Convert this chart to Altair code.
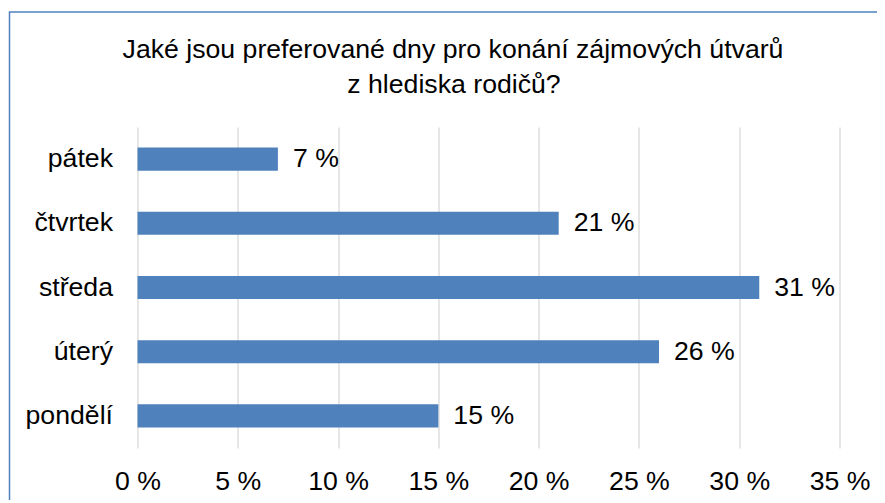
import altair as alt
import pandas as pd

days = ["pátek", "čtvrtek", "středa", "úterý", "pondělí"]
values = [7, 21, 31, 26, 15]
labels = ["7 %", "21 %", "31 %", "26 %", "15 %"]
ticks = [0, 5, 10, 15, 20, 25, 30, 35]
title_lines = ["Jaké jsou preferované dny pro konání zájmových útvarů", "z hlediska rodičů?"]

df = pd.DataFrame({"day": days, "value": values, "label": labels})
one = pd.DataFrame({"k": [0]})

FONT = "Liberation Sans"
FS = 26.67
W, H = 702, 321

x = alt.X("value:Q", scale=alt.Scale(domain=[0, 35], nice=False),
          axis=alt.Axis(values=ticks, labelExpr="datum.value + ' %'", title=None,
                        domain=False, ticks=False, grid=True, gridColor="#d9d9d9",
                        gridWidth=1.3, labelFont=FONT, labelFontSize=FS,
                        labelColor="#000000", labelPadding=20, labelFlush=False))
y = alt.Y("day:N", sort=days,
          scale=alt.Scale(paddingInner=0.64, paddingOuter=0.32),
          axis=alt.Axis(title=None, domain=False, ticks=False, grid=False,
                        labelFont=FONT, labelFontSize=FS, labelColor="#000000",
                        labelPadding=25))

bars = alt.Chart(df).mark_bar(color="#4f81bd").encode(x=x, y=y)
text = alt.Chart(df).mark_text(align="left", baseline="middle", dx=15, font=FONT,
                               fontSize=FS, color="#000000").encode(
    x="value:Q", y=alt.Y("day:N", sort=days), text="label:N")

border = alt.Chart(one).mark_rect(fill=None, stroke="#4f81bd", strokeWidth=1.5).encode(
    x=alt.value(-128), x2=alt.value(1000), y=alt.value(-115), y2=alt.value(1000))

t1 = alt.Chart(one).mark_text(align="center", baseline="alphabetic", font=FONT,
                              fontSize=FS, color="#000000").encode(
    x=alt.value(315.5), y=alt.value(-69), text=alt.value(title_lines[0]))
t2 = alt.Chart(one).mark_text(align="center", baseline="alphabetic", font=FONT,
                              fontSize=FS, color="#000000").encode(
    x=alt.value(316.5), y=alt.value(-34), text=alt.value(title_lines[1]))

chart = alt.layer(bars, text, border, t1, t2).properties(
    width=W, height=H,
    autosize=alt.AutoSizeParams(type="none"),
    padding={"left": 129.5, "top": 119, "right": 37.5, "bottom": 52},
).configure_view(stroke=None)

chart.save("out.html", embed_options={"renderer": "svg", "actions": False})
